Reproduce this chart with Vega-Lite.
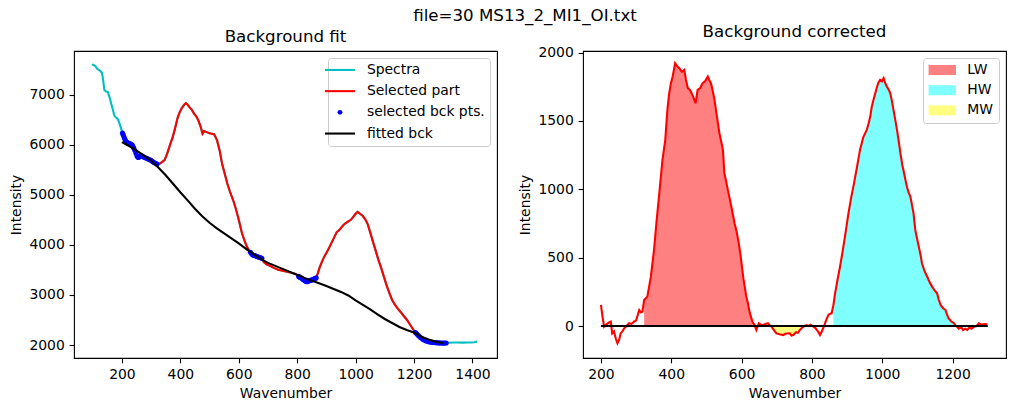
{
  "$schema": "https://vega.github.io/schema/vega-lite/v6.json",
  "padding": {"left": 9, "top": 8, "right": 5, "bottom": 5},
  "background": "white",
  "spacing": 20,
  "title": {"text": "file=30 MS13_2_MI1_OI.txt", "anchor": "middle", "fontSize": 16.67, "fontWeight": "normal", "font": "DejaVu Sans", "color": "black", "offset": -2, "dx": 17},
  "config": {
    "font": "DejaVu Sans",
    "view": {"stroke": "black", "strokeWidth": 1.1},
    "axis": {"domain": false, "grid": false, "tickColor": "black", "tickSize": 4.86, "tickWidth": 1.1, "labelPadding": 4.86, "labelFontSize": 13.9, "labelColor": "black", "labelFont": "DejaVu Sans", "titleFontSize": 13.9, "titleFontWeight": "normal", "titleColor": "black", "titleFont": "DejaVu Sans", "labelOverlap": false, "labelFlush": false, "titlePadding": 5, "format": "d"},
    "title": {"fontSize": 16.67, "fontWeight": "normal", "color": "black", "font": "DejaVu Sans", "offset": 5.3},
    "legend": {"labelFontSize": 13.9, "labelFont": "DejaVu Sans", "labelColor": "black", "fillColor": "white", "strokeColor": "#cccccc", "cornerRadius": 3, "padding": 5, "rowPadding": 6.2, "labelOffset": 20, "offset": 7, "orient": "top-right"}
  },
  "resolve": {"scale": {"color": "independent", "shape": "independent"}, "legend": {"color": "independent", "shape": "independent"}},
  "datasets": {
    "spectrum": [
      {"x":97,"y":7600},{"x":103,"y":7590},{"x":110,"y":7560},{"x":116,"y":7510},{"x":122,"y":7490},{"x":128,"y":7460},{"x":132,"y":7430},{"x":136,"y":7280},{"x":140,"y":7090},{"x":146,"y":7060},{"x":152,"y":7050},{"x":157,"y":6960},{"x":162,"y":6850},{"x":168,"y":6720},{"x":174,"y":6580},{"x":180,"y":6540},{"x":186,"y":6510},{"x":192,"y":6420},{"x":197,"y":6330},
      {"x":202,"y":6230},{"x":205,"y":6190},{"x":208,"y":6140},{"x":211,"y":6100},{"x":214,"y":6060},{"x":217,"y":6045},{"x":220,"y":6035},{"x":224,"y":6025},{"x":228,"y":6015},{"x":232,"y":6005},{"x":236,"y":5985},{"x":240,"y":5940},{"x":244,"y":5890},{"x":248,"y":5830},{"x":252,"y":5770},{"x":256,"y":5745},{"x":260,"y":5760},{"x":264,"y":5775},{"x":268,"y":5780},{"x":272,"y":5765},{"x":276,"y":5750},{"x":280,"y":5740},{"x":285,"y":5730},{"x":290,"y":5715},{"x":295,"y":5700},{"x":300,"y":5690},{"x":305,"y":5665},{"x":310,"y":5645},{"x":315,"y":5630},{"x":320,"y":5615},
      {"x":329,"y":5620},{"x":337,"y":5650},{"x":346,"y":5690},{"x":355,"y":5820},{"x":365,"y":6000},{"x":374,"y":6150},{"x":383,"y":6350},{"x":391,"y":6540},{"x":398,"y":6650},{"x":405,"y":6730},{"x":412,"y":6790},{"x":419,"y":6830},{"x":425,"y":6800},{"x":431,"y":6750},{"x":440,"y":6690},{"x":447,"y":6620},{"x":455,"y":6560},{"x":462,"y":6480},{"x":470,"y":6350},{"x":476,"y":6220},{"x":481,"y":6270},{"x":490,"y":6250},{"x":500,"y":6230},{"x":508,"y":6220},{"x":515,"y":6210},{"x":520,"y":6160},{"x":526,"y":6080},{"x":535,"y":5870},{"x":543,"y":5620},{"x":552,"y":5420},{"x":561,"y":5220},{"x":570,"y":5060},{"x":581,"y":4890},{"x":590,"y":4720},{"x":600,"y":4500},{"x":611,"y":4230},{"x":620,"y":4080},{"x":628,"y":3960},{"x":635,"y":3890},
      {"x":640,"y":3850},{"x":645,"y":3810},{"x":650,"y":3790},{"x":655,"y":3785},{"x":660,"y":3770},{"x":665,"y":3760},{"x":670,"y":3750},{"x":675,"y":3740},{"x":679,"y":3730},
      {"x":685,"y":3660},{"x":695,"y":3610},{"x":707,"y":3580},{"x":720,"y":3540},{"x":735,"y":3505},{"x":750,"y":3485},{"x":765,"y":3465},{"x":780,"y":3445},{"x":792,"y":3425},{"x":800,"y":3400},
      {"x":805,"y":3370},{"x":810,"y":3350},{"x":815,"y":3335},{"x":820,"y":3310},{"x":825,"y":3290},{"x":830,"y":3270},{"x":835,"y":3265},{"x":840,"y":3280},{"x":845,"y":3290},{"x":850,"y":3300},{"x":855,"y":3310},{"x":860,"y":3325},{"x":865,"y":3340},
      {"x":870,"y":3420},{"x":877,"y":3550},{"x":886,"y":3680},{"x":895,"y":3790},{"x":905,"y":3890},{"x":915,"y":4010},{"x":925,"y":4130},{"x":935,"y":4250},{"x":945,"y":4300},{"x":956,"y":4380},{"x":965,"y":4430},{"x":975,"y":4470},{"x":984,"y":4500},{"x":992,"y":4560},{"x":1000,"y":4620},{"x":1007,"y":4660},{"x":1015,"y":4620},{"x":1024,"y":4580},{"x":1033,"y":4510},{"x":1041,"y":4420},{"x":1050,"y":4250},{"x":1059,"y":4070},{"x":1069,"y":3880},{"x":1078,"y":3700},{"x":1088,"y":3530},{"x":1097,"y":3360},{"x":1106,"y":3190},{"x":1116,"y":3030},{"x":1125,"y":2900},{"x":1135,"y":2800},{"x":1145,"y":2720},{"x":1154,"y":2660},{"x":1165,"y":2580},{"x":1176,"y":2500},{"x":1185,"y":2420},{"x":1195,"y":2330},
      {"x":1205,"y":2250},{"x":1210,"y":2220},{"x":1215,"y":2190},{"x":1220,"y":2160},{"x":1225,"y":2140},{"x":1230,"y":2115},{"x":1235,"y":2100},{"x":1240,"y":2085},{"x":1245,"y":2075},{"x":1250,"y":2065},{"x":1260,"y":2055},{"x":1270,"y":2050},{"x":1280,"y":2045},{"x":1290,"y":2040},{"x":1300,"y":2038},{"x":1310,"y":2040},
      {"x":1320,"y":2047},{"x":1335,"y":2050},{"x":1350,"y":2052},{"x":1365,"y":2048},{"x":1380,"y":2052},{"x":1395,"y":2050},{"x":1405,"y":2055},{"x":1416,"y":2068}
    ],
    "bckpts": [
      {"x":202,"y":6230},{"x":205,"y":6190},{"x":208,"y":6140},{"x":211,"y":6100},{"x":214,"y":6060},{"x":217,"y":6045},{"x":220,"y":6035},{"x":224,"y":6025},{"x":228,"y":6015},{"x":232,"y":6005},{"x":236,"y":5985},{"x":240,"y":5940},{"x":244,"y":5890},{"x":248,"y":5830},{"x":252,"y":5770},{"x":256,"y":5745},{"x":260,"y":5760},{"x":264,"y":5775},{"x":268,"y":5780},{"x":272,"y":5765},{"x":276,"y":5750},{"x":280,"y":5740},{"x":285,"y":5730},{"x":290,"y":5715},{"x":295,"y":5700},{"x":300,"y":5690},{"x":305,"y":5665},{"x":310,"y":5645},{"x":315,"y":5630},{"x":320,"y":5615},
      {"x":640,"y":3850},{"x":645,"y":3810},{"x":650,"y":3790},{"x":655,"y":3785},{"x":660,"y":3770},{"x":665,"y":3760},{"x":670,"y":3750},{"x":675,"y":3740},{"x":679,"y":3730},
      {"x":805,"y":3370},{"x":810,"y":3350},{"x":815,"y":3335},{"x":820,"y":3310},{"x":825,"y":3290},{"x":830,"y":3270},{"x":835,"y":3265},{"x":840,"y":3280},{"x":845,"y":3290},{"x":850,"y":3300},{"x":855,"y":3310},{"x":860,"y":3325},{"x":865,"y":3340},
      {"x":1205,"y":2250},{"x":1210,"y":2220},{"x":1215,"y":2190},{"x":1220,"y":2160},{"x":1225,"y":2140},{"x":1230,"y":2115},{"x":1235,"y":2100},{"x":1240,"y":2085},{"x":1245,"y":2075},{"x":1250,"y":2065},{"x":1255,"y":2060},{"x":1260,"y":2055},{"x":1265,"y":2052},{"x":1270,"y":2050},{"x":1275,"y":2047},{"x":1280,"y":2045},{"x":1285,"y":2042},{"x":1290,"y":2040},{"x":1295,"y":2039},{"x":1300,"y":2038},{"x":1305,"y":2039},{"x":1310,"y":2040}
    ],
    "fit": [
      {"x":200,"y":6050},{"x":225,"y":5970},{"x":250,"y":5880},{"x":267,"y":5815},{"x":300,"y":5680},{"x":323,"y":5552},{"x":350,"y":5390},{"x":375,"y":5220},{"x":400,"y":5050},{"x":425,"y":4888},{"x":450,"y":4720},{"x":475,"y":4570},{"x":500,"y":4440},{"x":525,"y":4330},{"x":550,"y":4230},{"x":575,"y":4130},{"x":600,"y":4030},{"x":625,"y":3920},{"x":650,"y":3815},{"x":675,"y":3720},{"x":700,"y":3640},{"x":725,"y":3580},{"x":750,"y":3520},{"x":775,"y":3460},{"x":800,"y":3400},{"x":825,"y":3340},{"x":850,"y":3285},{"x":875,"y":3235},{"x":900,"y":3180},{"x":925,"y":3120},{"x":950,"y":3060},{"x":975,"y":2990},{"x":1000,"y":2890},{"x":1025,"y":2800},{"x":1050,"y":2710},{"x":1075,"y":2610},{"x":1100,"y":2520},{"x":1125,"y":2440},{"x":1150,"y":2360},{"x":1175,"y":2300},{"x":1200,"y":2250},{"x":1225,"y":2165},{"x":1250,"y":2110},{"x":1275,"y":2065},{"x":1300,"y":2035}
    ],
    "corr": [
      {"x":200,"y":154},{"x":205,"y":60},{"x":209,"y":-5},{"x":215,"y":10},{"x":222,"y":25},{"x":228,"y":32},{"x":232,"y":-54},{"x":237,"y":-40},{"x":242,"y":-90},{"x":247,"y":-127},{"x":252,"y":-100},{"x":256,"y":-54},{"x":261,"y":-40},{"x":266,"y":-17},{"x":273,"y":0},{"x":280,"y":20},{"x":287,"y":15},{"x":294,"y":32},{"x":300,"y":40},{"x":309,"y":117},{"x":314,"y":100},{"x":318,"y":105},
      {"x":323,"y":190,"band":"LW"},{"x":332,"y":215,"band":"LW"},{"x":342,"y":361,"band":"LW"},{"x":351,"y":556,"band":"LW"},{"x":358,"y":760,"band":"LW"},{"x":366,"y":971,"band":"LW"},{"x":375,"y":1215,"band":"LW"},{"x":383,"y":1362,"band":"LW"},{"x":389,"y":1581,"band":"LW"},{"x":394,"y":1700,"band":"LW"},{"x":399,"y":1777,"band":"LW"},{"x":404,"y":1825,"band":"LW"},{"x":411,"y":1923,"band":"LW"},{"x":417,"y":1900,"band":"LW"},{"x":423,"y":1887,"band":"LW"},{"x":430,"y":1860,"band":"LW"},{"x":437,"y":1874,"band":"LW"},{"x":442,"y":1800,"band":"LW"},{"x":447,"y":1740,"band":"LW"},{"x":452,"y":1730,"band":"LW"},{"x":456,"y":1715,"band":"LW"},{"x":462,"y":1680,"band":"LW"},{"x":469,"y":1630,"band":"LW"},{"x":475,"y":1728,"band":"LW"},{"x":482,"y":1740,"band":"LW"},{"x":489,"y":1777,"band":"LW"},{"x":496,"y":1790,"band":"LW"},{"x":504,"y":1825,"band":"LW"},{"x":508,"y":1800,"band":"LW"},{"x":513,"y":1777,"band":"LW"},{"x":518,"y":1720,"band":"LW"},{"x":523,"y":1654,"band":"LW"},{"x":530,"y":1530,"band":"LW"},{"x":537,"y":1411,"band":"LW"},{"x":542,"y":1350,"band":"LW"},{"x":547,"y":1288,"band":"LW"},{"x":551,"y":1118,"band":"LW"},{"x":556,"y":1060,"band":"LW"},{"x":561,"y":996,"band":"LW"},{"x":571,"y":873,"band":"LW"},{"x":580,"y":752,"band":"LW"},{"x":586,"y":690,"band":"LW"},{"x":592,"y":605,"band":"LW"},{"x":597,"y":520,"band":"LW"},{"x":601,"y":434,"band":"LW"},{"x":605,"y":350,"band":"LW"},{"x":609,"y":288,"band":"LW"},{"x":613,"y":220,"band":"LW"},{"x":618,"y":166,"band":"LW"},{"x":623,"y":100,"band":"LW"},{"x":628,"y":56,"band":"LW"},{"x":632,"y":25,"band":"LW"},
      {"x":637,"y":7},{"x":642,"y":-29},{"x":646,"y":0},{"x":649,"y":20},{"x":655,"y":10},{"x":661,"y":7},{"x":668,"y":15},{"x":675,"y":20},{"x":680,"y":5},
      {"x":685,"y":-5,"band":"MW"},{"x":692,"y":-30,"band":"MW"},{"x":699,"y":-54,"band":"MW"},{"x":708,"y":-60,"band":"MW"},{"x":718,"y":-66,"band":"MW"},{"x":727,"y":-55,"band":"MW"},{"x":737,"y":-54,"band":"MW"},{"x":742,"y":-70,"band":"MW"},{"x":747,"y":-66,"band":"MW"},{"x":755,"y":-45,"band":"MW"},{"x":760,"y":-50,"band":"MW"},{"x":766,"y":-29,"band":"MW"},
      {"x":773,"y":-10},{"x":779,"y":0},{"x":785,"y":7},{"x":790,"y":0},{"x":796,"y":10},{"x":804,"y":-5},{"x":810,"y":-15},{"x":818,"y":-42},{"x":823,"y":-66},{"x":828,"y":-40},{"x":834,"y":-5},{"x":840,"y":40},{"x":847,"y":81},{"x":852,"y":90},{"x":856,"y":93},
      {"x":861,"y":150,"band":"HW"},{"x":866,"y":239,"band":"HW"},{"x":873,"y":340,"band":"HW"},{"x":880,"y":434,"band":"HW"},{"x":887,"y":540,"band":"HW"},{"x":894,"y":654,"band":"HW"},{"x":899,"y":740,"band":"HW"},{"x":904,"y":825,"band":"HW"},{"x":911,"y":930,"band":"HW"},{"x":918,"y":1020,"band":"HW"},{"x":928,"y":1160,"band":"HW"},{"x":937,"y":1290,"band":"HW"},{"x":946,"y":1380,"band":"HW"},{"x":956,"y":1435,"band":"HW"},{"x":961,"y":1480,"band":"HW"},{"x":966,"y":1532,"band":"HW"},{"x":970,"y":1600,"band":"HW"},{"x":975,"y":1654,"band":"HW"},{"x":980,"y":1700,"band":"HW"},{"x":984,"y":1740,"band":"HW"},{"x":989,"y":1780,"band":"HW"},{"x":994,"y":1801,"band":"HW"},{"x":999,"y":1790,"band":"HW"},{"x":1004,"y":1813,"band":"HW"},{"x":1008,"y":1780,"band":"HW"},{"x":1013,"y":1752,"band":"HW"},{"x":1018,"y":1730,"band":"HW"},{"x":1023,"y":1703,"band":"HW"},{"x":1028,"y":1640,"band":"HW"},{"x":1032,"y":1581,"band":"HW"},{"x":1037,"y":1510,"band":"HW"},{"x":1042,"y":1435,"band":"HW"},{"x":1047,"y":1350,"band":"HW"},{"x":1052,"y":1260,"band":"HW"},{"x":1057,"y":1180,"band":"HW"},{"x":1062,"y":1120,"band":"HW"},{"x":1066,"y":1069,"band":"HW"},{"x":1071,"y":1010,"band":"HW"},{"x":1076,"y":970,"band":"HW"},{"x":1080,"y":947,"band":"HW"},{"x":1085,"y":880,"band":"HW"},{"x":1089,"y":825,"band":"HW"},{"x":1094,"y":703,"band":"HW"},{"x":1099,"y":640,"band":"HW"},{"x":1104,"y":580,"band":"HW"},{"x":1109,"y":520,"band":"HW"},{"x":1113,"y":459,"band":"HW"},{"x":1118,"y":420,"band":"HW"},{"x":1123,"y":386,"band":"HW"},{"x":1128,"y":360,"band":"HW"},{"x":1132,"y":337,"band":"HW"},{"x":1137,"y":310,"band":"HW"},{"x":1142,"y":288,"band":"HW"},{"x":1149,"y":260,"band":"HW"},{"x":1156,"y":239,"band":"HW"},{"x":1161,"y":190,"band":"HW"},{"x":1166,"y":154,"band":"HW"},{"x":1173,"y":130,"band":"HW"},{"x":1180,"y":117,"band":"HW"},{"x":1184,"y":85,"band":"HW"},{"x":1189,"y":56,"band":"HW"},{"x":1196,"y":35,"band":"HW"},{"x":1204,"y":20,"band":"HW"},{"x":1208,"y":5,"band":"HW"},
      {"x":1213,"y":-5},{"x":1218,"y":-20},{"x":1225,"y":-10},{"x":1230,"y":-30},{"x":1236,"y":-20},{"x":1242,"y":-29},{"x":1248,"y":-10},{"x":1254,"y":-20},{"x":1261,"y":-5},{"x":1268,"y":0},{"x":1275,"y":20},{"x":1282,"y":10},{"x":1290,"y":15},{"x":1299,"y":12}
    ],
    "zero": [{"x":200,"y":0},{"x":1300,"y":0}]
  },
  "hconcat": [
    {
      "width": 423, "height": 307,
      "title": {"text": "Background fit"},
      "encoding": {
        "x": {"field": "x", "type": "quantitative", "scale": {"domain": [36, 1484], "nice": false, "zero": false}, "axis": {"values": [200, 400, 600, 800, 1000, 1200, 1400], "title": "Wavenumber"}},
        "y": {"field": "y", "type": "quantitative", "scale": {"domain": [1741, 7870], "nice": false, "zero": false}, "axis": {"values": [2000, 3000, 4000, 5000, 6000, 7000], "title": "Intensity"}}
      },
      "layer": [
        {"data": {"name": "spectrum"}, "mark": {"type": "line", "strokeWidth": 2.08},
         "encoding": {"color": {"datum": "Spectra", "type": "nominal",
            "scale": {"domain": ["Spectra", "Selected part", "selected bck pts.", "fitted bck"], "range": ["#00bfbf", "#ff0000", "#0000ff", "#000000"]},
            "legend": {"title": null, "symbolSize": 900, "symbolStrokeWidth": 0, "labelOffset": 20,
              "encode": {"symbols": {"update": {
                "size": {"signal": "datum.value === 'selected bck pts.' ? 24 : 900"},
                "fill": {"signal": "datum.value === 'selected bck pts.' ? '#0000ff' : 'transparent'"},
                "stroke": {"signal": "datum.value === 'Spectra' ? '#00bfbf' : datum.value === 'Selected part' ? '#ff0000' : datum.value === 'fitted bck' ? '#000000' : '#0000ff'"},
                "strokeWidth": {"signal": "datum.value === 'selected bck pts.' ? 0 : 2.08"},
                "opacity": {"value": 1}
              }}}}}}},
        {"data": {"name": "spectrum"}, "transform": [{"filter": "datum.x >= 200 && datum.x <= 1300"}], "mark": {"type": "line", "strokeWidth": 2.08},
         "encoding": {"color": {"datum": "Selected part", "type": "nominal"}}},
        {"data": {"name": "bckpts"}, "mark": {"type": "point", "filled": true, "size": 26, "opacity": 1},
         "encoding": {"color": {"datum": "selected bck pts.", "type": "nominal"},
            "shape": {"datum": "selected bck pts.", "type": "nominal",
              "scale": {"domain": ["Spectra", "Selected part", "selected bck pts.", "fitted bck"], "range": ["stroke", "stroke", "circle", "stroke"]},
              "legend": {"title": null, "symbolSize": 900, "symbolStrokeWidth": 0, "labelOffset": 20}}}},
        {"data": {"name": "fit"}, "mark": {"type": "line", "strokeWidth": 2.08},
         "encoding": {"color": {"datum": "fitted bck", "type": "nominal"}}}
      ]
    },
    {
      "width": 423, "height": 307,
      "title": {"text": "Background corrected"},
      "encoding": {
        "x": {"field": "x", "type": "quantitative", "scale": {"domain": [149, 1352], "nice": false, "zero": false}, "axis": {"values": [200, 400, 600, 800, 1000, 1200], "title": "Wavenumber"}},
        "y": {"field": "y", "type": "quantitative", "scale": {"domain": [-234, 2012], "nice": false, "zero": false}, "axis": {"values": [0, 500, 1000, 1500, 2000], "title": "Intensity"}}
      },
      "layer": [
        {"data": {"name": "corr"}, "transform": [{"filter": "isValid(datum.band)"}], "mark": {"type": "area", "opacity": 1},
         "encoding": {"y": {"field": "y", "type": "quantitative", "stack": null}, "y2": {"datum": 0},
           "color": {"field": "band", "type": "nominal", "scale": {"domain": ["LW", "HW", "MW"], "range": ["#ff8080", "#80ffff", "#ffff80"]},
             "legend": {"title": null, "symbolType": "M-2,-0.73H2V0.73H-2Z", "symbolSize": 188, "symbolStrokeWidth": 0, "symbolOpacity": 1, "symbolOffset": 7.3, "labelOffset": 18, "rowPadding": 6.2}}}},
        {"data": {"name": "corr"}, "mark": {"type": "line", "color": "#ff0000", "strokeWidth": 2.08}, "encoding": {}},
        {"data": {"name": "zero"}, "mark": {"type": "line", "color": "#000000", "strokeWidth": 2.08}, "encoding": {}}
      ]
    }
  ]
}
